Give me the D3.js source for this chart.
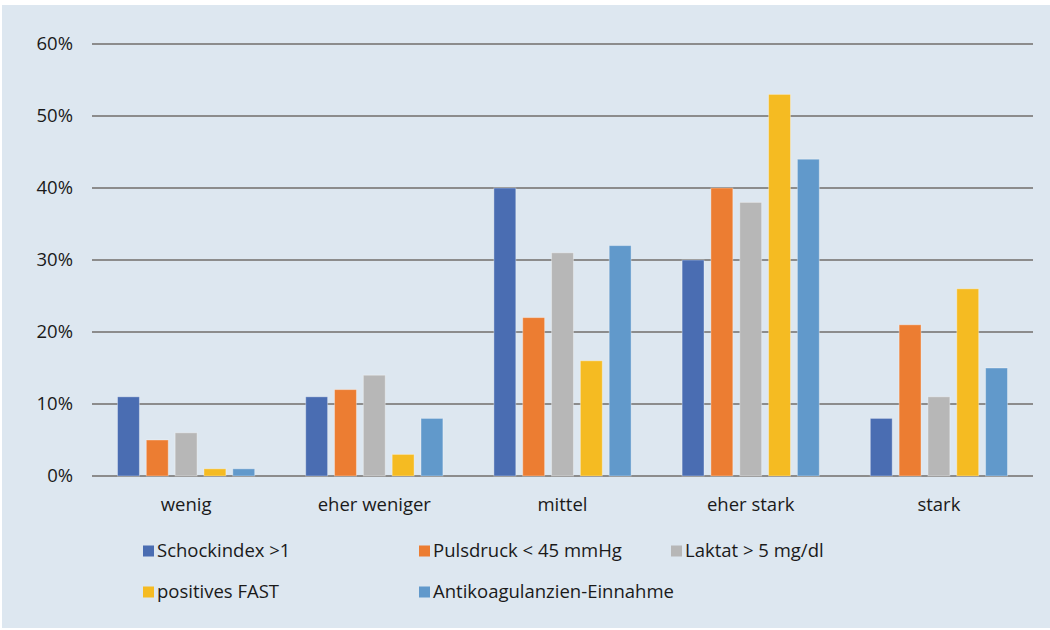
<!DOCTYPE html>
<html>
<head>
<meta charset="utf-8">
<script src="https://cdn.jsdelivr.net/npm/d3@7"></script>
<style>
  body { margin: 0; background: #fff; }
  svg text { font-family: "Open Sans", sans-serif; fill: #1a1a1a; }
</style>
</head>
<body>
<div id="chart"></div>
<script>
var categories = ["wenig", "eher weniger", "mittel", "eher stark", "stark"];
var seriesNames = ["Schockindex >1", "Pulsdruck < 45 mmHg", "Laktat > 5 mg/dl", "positives FAST", "Antikoagulanzien-Einnahme"];
var schockindex = [11, 11, 40, 30, 8];
var pulsdruck = [5, 12, 22, 40, 21];
var laktat = [6, 14, 31, 38, 11];
var fast = [1, 3, 16, 53, 26];
var antikoag = [1, 8, 32, 44, 15];
var yTicks = [0, 10, 20, 30, 40, 50, 60];
var colors = ["#4a6db2", "#ec7d32", "#b7b7b7", "#f5bb22", "#6199cb"];

var series = [schockindex, pulsdruck, laktat, fast, antikoag];

var width = 1050, height = 630;
var margin = { top: 44, right: 17, left: 92, bottom: 154 };
var fontSize = 18.5;

var svg = d3.select("#chart").append("svg")
    .attr("width", width)
    .attr("height", height);

// panel background
svg.append("rect")
    .attr("x", 2).attr("y", 5)
    .attr("width", width - 2).attr("height", height - 7)
    .attr("fill", "#dde7f0");

var x0 = d3.scaleBand()
    .domain(categories)
    .range([margin.left, width - margin.right]);

var x1 = d3.scaleBand()
    .domain(d3.range(series.length))
    .range([25.5, x0.bandwidth() - 25.5])
    .paddingInner(0.24);

var y = d3.scaleLinear()
    .domain([0, 60])
    .range([height - margin.bottom, margin.top]);

// gridlines
svg.append("g")
    .selectAll("line")
    .data(yTicks)
    .join("line")
    .attr("x1", margin.left)
    .attr("x2", width - margin.right)
    .attr("y1", d => y(d))
    .attr("y2", d => y(d))
    .attr("stroke", "#8c8c8c")
    .attr("stroke-width", 2);

// y labels
svg.append("g")
    .selectAll("text")
    .data(yTicks)
    .join("text")
    .attr("x", 73)
    .attr("y", d => y(d))
    .attr("dy", "0.35em")
    .attr("text-anchor", "end")
    .attr("font-size", fontSize)
    .text(d => d + "%");

// bars
var groups = svg.append("g")
    .selectAll("g")
    .data(categories)
    .join("g")
    .attr("transform", d => "translate(" + x0(d) + ",0)");

groups.selectAll("rect")
    .data((c, ci) => series.map((s, si) => ({ si: si, v: s[ci] })))
    .join("rect")
    .attr("x", d => x1(d.si))
    .attr("width", x1.bandwidth())
    .attr("y", d => y(d.v))
    .attr("height", d => y(0) - y(d.v))
    .attr("fill", d => colors[d.si])
    .attr("stroke", "rgba(255,255,255,0.35)")
    .attr("stroke-width", 1);

// x labels
svg.append("g")
    .selectAll("text")
    .data(categories)
    .join("text")
    .attr("x", d => x0(d) + x0.bandwidth() / 2)
    .attr("y", 505)
    .attr("dy", "0.35em")
    .attr("text-anchor", "middle")
    .attr("font-size", fontSize)
    .text(d => d);

// legend
var legendPos = [[143, 551], [419, 551], [671, 551], [143, 592], [419, 592]];
var legend = svg.append("g")
    .selectAll("g")
    .data(seriesNames)
    .join("g")
    .attr("transform", (d, i) => "translate(" + legendPos[i][0] + "," + legendPos[i][1] + ")");

legend.append("rect")
    .attr("x", 0).attr("y", -5.5)
    .attr("width", 11).attr("height", 11)
    .attr("fill", (d, i) => colors[i]);

legend.append("text")
    .attr("x", 14)
    .attr("y", 0)
    .attr("dy", "0.35em")
    .attr("font-size", fontSize)
    .text(d => d);
</script>
</body>
</html>
